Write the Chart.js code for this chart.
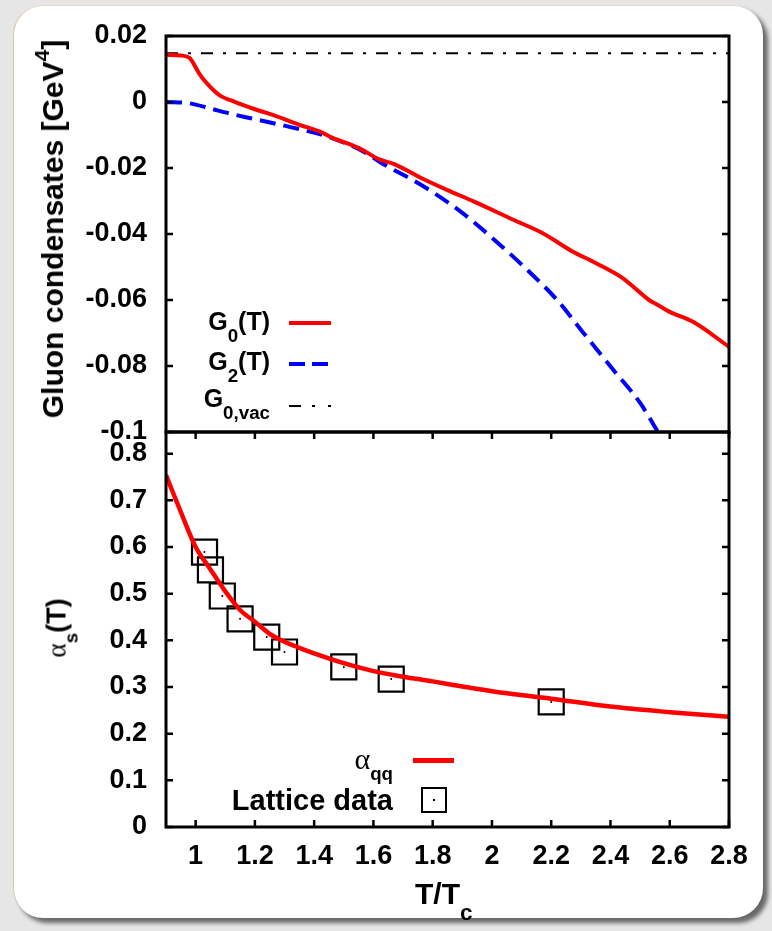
<!DOCTYPE html>
<html>
<head>
<meta charset="utf-8">
<script src="https://cdn.jsdelivr.net/npm/chart.js@4.4.0/dist/chart.umd.min.js"></script>
<style>
html,body{margin:0;padding:0;background:#e3e3e3;}
#wrap{position:relative;width:772px;height:931px;overflow:hidden;background:#e6e6e6;}
#card{position:absolute;left:13px;top:5px;width:749px;height:912px;background:#fff;border-radius:30px;
  box-shadow:5px 5px 4px rgba(0,0,0,0.55);border-left:1px solid #d8c7b4;border-top:1px solid #e3d9cd;}
canvas{position:absolute;left:0;}
#c1{top:0;}
#c2{top:428px;}
.t{position:absolute;font-family:"Liberation Sans",Arial,Helvetica,sans-serif;font-weight:bold;color:#000;white-space:nowrap;line-height:1;}
.rot{transform:translate(-50%,-50%) rotate(-90deg);}
sub,sup{font-size:70%;line-height:0;}
.greek{font-family:"Liberation Serif","DejaVu Serif",serif;font-weight:normal;}
.sw{position:absolute;}
</style>
</head>
<body>
<div id="wrap">
  <div id="card"></div>
  <canvas id="c1" width="772" height="460"></canvas>
  <canvas id="c2" width="772" height="503"></canvas>

  <!-- axis titles -->
  <div class="t rot" style="left:53px;top:229px;font-size:30px;">Gluon condensates [GeV<sup style="position:relative;top:-0.15em">4</sup>]</div>
  <div class="t rot" style="left:57px;top:628px;font-size:27px;"><span class="greek" style="font-size:27px">α</span><sub style="position:relative;top:0.3em">s</sub>(T)</div>
  <div class="t" style="left:415px;top:879px;font-size:30px;">T/T<sub style="position:relative;top:0.4em;font-size:75%">c</sub></div>

  <!-- top legend -->
  <div class="t" style="right:502px;top:309px;font-size:25px;">G<sub style="position:relative;top:0.3em;font-size:75%">0</sub>(T)</div>
  <div class="sw" style="left:289px;top:321px;width:42px;height:4px;background:#ff0000;"></div>
  <div class="t" style="right:502px;top:349px;font-size:25px;">G<sub style="position:relative;top:0.3em;font-size:75%">2</sub>(T)</div>
  <div class="sw" style="left:289px;top:362px;width:16px;height:4px;background:#0000ff;"></div>
  <div class="sw" style="left:312px;top:362px;width:16px;height:4px;background:#0000ff;"></div>
  <div class="t" style="right:502px;top:386px;font-size:25px;">G<sub style="position:relative;top:0.3em;font-size:75%">0,vac</sub></div>
  <div class="sw" style="left:289px;top:405px;width:12px;height:2px;background:#000;"></div>
  <div class="sw" style="left:312px;top:405px;width:3px;height:2px;background:#000;"></div>
  <div class="sw" style="left:328px;top:405px;width:3px;height:2px;background:#000;"></div>

  <!-- bottom legend -->
  <div class="t" style="right:379px;top:744px;font-size:22px;"><span class="greek" style="font-size:30px">α</span><sub style="position:relative;top:0.3em;font-size:85%">qq</sub></div>
  <div class="sw" style="left:413px;top:758px;width:41px;height:5px;background:#ff0000;"></div>
  <div class="t" style="right:379px;top:786px;font-size:29px;">Lattice data</div>
  <div class="sw" style="left:421px;top:787px;width:22px;height:22px;border:2px solid #000;"></div>
  <div class="sw" style="left:433px;top:799px;width:2px;height:2px;background:#000;"></div>
</div>

<script>
// ---------- data ----------
const tG0 = [0.9, 0.95, 0.98, 1.0, 1.015, 1.05, 1.08, 1.13, 1.2, 1.26, 1.35, 1.42, 1.46, 1.55, 1.62, 1.67, 1.77, 1.85, 1.94, 2.07, 2.17, 2.27, 2.35, 2.44, 2.48, 2.53, 2.56, 2.6, 2.68, 2.8];
const g0  = [0.0143, 0.0141, 0.0133, 0.0105, 0.0082, 0.0045, 0.0021, 0.0001, -0.0022, -0.0039, -0.0069, -0.009, -0.0108, -0.0139, -0.0174, -0.0188, -0.0234, -0.0267, -0.0302, -0.0356, -0.0397, -0.0452, -0.0488, -0.0533, -0.0562, -0.06, -0.0615, -0.0636, -0.0667, -0.0742];

const tG2 = [0.9, 0.98, 1.05, 1.12, 1.2, 1.32, 1.45, 1.57, 1.62, 1.77, 1.9, 2.02, 2.13, 2.22, 2.3, 2.41, 2.5, 2.56, 2.6];
const g2  = [0.0, -0.0004, -0.002, -0.0036, -0.0052, -0.0076, -0.0106, -0.0152, -0.0181, -0.0256, -0.0336, -0.0427, -0.0518, -0.06, -0.069, -0.0812, -0.0912, -0.1, -0.106];

const tVac = [0.9, 2.8];
const g0vac = [0.0148, 0.0148];

const tAlpha = [0.9, 0.95, 1.0, 1.05, 1.1, 1.15, 1.2, 1.25, 1.3, 1.35, 1.4, 1.5, 1.6, 1.7, 1.8, 1.9, 2.0, 2.2, 2.4, 2.6, 2.8];
const alphaQQ = [0.754, 0.675, 0.6, 0.552, 0.505, 0.465, 0.44, 0.414, 0.397, 0.384, 0.372, 0.351, 0.334, 0.322, 0.312, 0.301, 0.291, 0.275, 0.258, 0.246, 0.236];

const tLattice = [1.03, 1.05, 1.09, 1.15, 1.24, 1.30, 1.50, 1.66, 2.20];
const alphaLattice = [0.589, 0.551, 0.495, 0.446, 0.407, 0.375, 0.343, 0.317, 0.268];

const xTicks = [1, 1.2, 1.4, 1.6, 1.8, 2, 2.2, 2.4, 2.6, 2.8];
const xTickLabels = ['1', '1.2', '1.4', '1.6', '1.8', '2', '2.2', '2.4', '2.6', '2.8'];
const topYTicks = [0.02, 0, -0.02, -0.04, -0.06, -0.08, -0.1];
const topYTickLabels = ['0.02', '0', '-0.02', '-0.04', '-0.06', '-0.08', '-0.1'];
const botYTicks = [0, 0.1, 0.2, 0.3, 0.4, 0.5, 0.6, 0.7, 0.8];
const botYTickLabels = ['0', '0.1', '0.2', '0.3', '0.4', '0.5', '0.6', '0.7', '0.8'];

// ---------- helpers ----------
const pts = (xs, ys) => xs.map((x, i) => ({x, y: ys[i]}));
const tickFont = {family: '"Liberation Sans", Arial, sans-serif', size: 27, weight: 'bold'};

const frame = {
  id: 'frame',
  afterDatasetsDraw(chart, args, opts) {
    const {ctx, chartArea: a, scales} = chart;
    const L = 7;
    ctx.save();
    ctx.strokeStyle = '#000';
    ctx.lineWidth = 2.5;
    ctx.beginPath();
    if (opts.yTicks) {
      scales.y.ticks.forEach(t => {
        const p = scales.y.getPixelForValue(t.value);
        ctx.moveTo(a.left, p); ctx.lineTo(a.left + L, p);
        ctx.moveTo(a.right, p); ctx.lineTo(a.right - L, p);
      });
    }
    if (opts.xTicks) {
      scales.x.ticks.forEach(t => {
        const p = scales.x.getPixelForValue(t.value);
        ctx.moveTo(p, a.bottom); ctx.lineTo(p, a.bottom - L);
        ctx.moveTo(p, a.top); ctx.lineTo(p, a.top + L);
      });
    }
    ctx.stroke();
    ctx.lineWidth = 3;
    ctx.strokeRect(a.left, a.top, a.right - a.left, a.bottom - a.top);
    ctx.restore();
  }
};

function yAxis(min, max, ticks, labels) {
  return {
    type: 'linear', min, max,
    grid: {display: false, drawTicks: false},
    border: {display: false},
    ticks: {
      font: tickFont, color: '#000', padding: 19,
      callback: (v, i) => labels[i]
    },
    afterBuildTicks: s => { s.ticks = ticks.map(v => ({value: v})); },
    afterFit: s => { s.width = 166; s.paddingTop = 0; s.paddingBottom = 0; s.paddingLeft = 0; s.paddingRight = 0; }
  };
}

Chart.defaults.font.family = '"Liberation Sans", Arial, sans-serif';

// ---------- top chart ----------
new Chart(document.getElementById('c1'), {
  type: 'line',
  data: {
    datasets: [
      {label: 'G0(T)', data: pts(tG0, g0), borderColor: '#ff0000', borderWidth: 4, pointRadius: 0, cubicInterpolationMode: 'monotone', clip: 0},
      {label: 'G2(T)', data: pts(tG2, g2), borderColor: '#0000ff', borderWidth: 4, borderDash: [16, 8], pointRadius: 0, cubicInterpolationMode: 'monotone', clip: 0},
      {label: 'G0,vac', data: pts(tVac, g0vac), borderColor: '#000', borderWidth: 2, borderDash: [12, 10, 3, 10], pointRadius: 0, clip: 0}
    ]
  },
  options: {
    responsive: false, animation: false, devicePixelRatio: 1,
    layout: {autoPadding: false, padding: {top: 36, right: 43, bottom: 28, left: 0}},
    plugins: {legend: {display: false}, tooltip: {enabled: false}, frame: {yTicks: true, xTicks: false}},
    scales: {
      x: {type: 'linear', min: 0.9, max: 2.8, display: false},
      y: yAxis(-0.1, 0.02, topYTicks, topYTickLabels)
    }
  },
  plugins: [frame]
});

// ---------- bottom chart ----------
new Chart(document.getElementById('c2'), {
  type: 'line',
  data: {
    datasets: [
      {label: 'αqq', data: pts(tAlpha, alphaQQ), borderColor: '#ff0000', borderWidth: 4.5, pointRadius: 0, cubicInterpolationMode: 'monotone', clip: 0},
      {label: 'Lattice data', data: pts(tLattice, alphaLattice), showLine: false, pointStyle: 'rect', pointRadius: 17.7, pointBorderWidth: 2.2, pointBorderColor: '#000', pointBackgroundColor: 'rgba(0,0,0,0)'},
      {label: 'Lattice centres', data: pts(tLattice, alphaLattice), showLine: false, pointStyle: 'circle', pointRadius: 1, pointBorderWidth: 0, pointBackgroundColor: '#000'}
    ]
  },
  options: {
    responsive: false, animation: false, devicePixelRatio: 1,
    layout: {autoPadding: false, padding: {top: 4, right: 43, bottom: 0, left: 0}},
    plugins: {legend: {display: false}, tooltip: {enabled: false}, frame: {yTicks: true, xTicks: true}},
    scales: {
      x: {
        type: 'linear', min: 0.9, max: 2.8,
        grid: {display: false, drawTicks: false},
        border: {display: false},
        ticks: {font: tickFont, color: '#000', padding: 13, maxRotation: 0, autoSkip: false,
          callback: (v, i) => xTickLabels[i]},
        afterBuildTicks: s => { s.ticks = xTicks.map(v => ({value: v})); },
        afterFit: s => { s.height = 104; s.paddingLeft = 0; s.paddingRight = 0; s.paddingTop = 0; s.paddingBottom = 0; }
      },
      y: yAxis(0, 0.8464, botYTicks, botYTickLabels)
    }
  },
  plugins: [frame]
});
</script>
</body>
</html>
